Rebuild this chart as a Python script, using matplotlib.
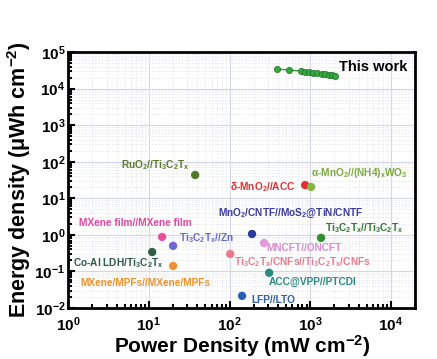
import numpy as np
import matplotlib
matplotlib.use('Agg')
import matplotlib.pyplot as plt

plt.rcParams['font.family'] = ['Liberation Sans', 'DejaVu Sans']
plt.rcParams['mathtext.fontset'] = 'custom'
plt.rcParams['mathtext.rm'] = 'Liberation Sans:bold'
plt.rcParams['mathtext.it'] = 'Liberation Sans:bold'
plt.rcParams['mathtext.bf'] = 'Liberation Sans:bold'

# this work (line with markers)
work_power = [389, 548, 771, 865, 969, 1087, 1218, 1404, 1530, 1715, 1867, 2036]
work_energy = [34300, 32200, 30200, 29000, 28300, 27500, 26700, 25800, 25000, 24200, 23500, 22000]

# literature points: label, power, energy
lit_labels = [
    r'RuO$_2$//Ti$_3$C$_2$T$_x$',
    r'δ-MnO$_2$//ACC',
    r'α-MnO$_2$//(NH4)$_x$WO$_3$',
    r'MnO$_2$/CNTF//MoS$_2$@TiN/CNTF',
    r'Ti$_3$C$_2$T$_x$//Ti$_3$C$_2$T$_x$',
    'MNCFT//ONCFT',
    r'Ti$_3$C$_2$T$_x$/CNFs//Ti$_3$C$_2$T$_x$/CNFs',
    'ACC@VPP//PTCDI',
    'LFP//LTO',
    'MXene film//MXene film',
    r'Ti$_3$C$_2$T$_x$//Zn',
    r'Co-Al LDH/Ti$_3$C$_2$T$_x$',
    'MXene/MPFs//MXene/MPFs',
]
lit_power = [37.5, 865, 1026, 190, 1365, 268, 102, 310, 143, 14.6, 20, 11, 20]
lit_energy = [43.5, 23, 20.5, 1.06, 0.83, 0.60, 0.30, 0.092, 0.0215, 0.88, 0.50, 0.34, 0.142]
lit_colors = ['#4f7a28', '#e03030', '#80b840', '#2b3a9a', '#2f8f2f', '#e39ad8',
              '#ec7a8c', '#2a8a80', '#2860b0', '#e8509a', '#6a6ad0', '#2e6048', '#f09030']
label_colors = ['#5b7a2e', '#e03030', '#7aab3c', '#3a3aa0', '#2e7a2e', '#d98cd0',
                '#e87a8a', '#2a8a80', '#2e5fa8', '#e0479e', '#6a6acc', '#2f5a4a', '#f0922a']
# label offsets in points and alignment
offsets = [(-29, 7, 'center'), (-6.5, -1.5, 'right'), (35, 10, 'center'), (28, 15, 'center'),
           (31, 7, 'center'), (2, -3.6, 'left'), (3, -6, 'left'), (0, -6.5, 'left'),
           (7, -3, 'left'), (-19, 10, 'center'), (4.3, 5.8, 'left'), (-24.5, -8, 'center'),
           (-20, -12, 'center')]

fig = plt.figure(figsize=(4.37, 3.59), dpi=100)
ax = fig.add_axes([0.156, 0.142, 0.794, 0.713])
ax.set_xscale('log')
ax.set_yscale('log')
ax.set_xlim(1, 2e4)
ax.set_ylim(1e-2, 1e5)

ax.grid(True, which='major', color='#d4d6ea', lw=0.8)
ax.grid(True, which='minor', color='#e6e6f0', lw=0.6, ls=(0, (2, 2)))
ax.set_axisbelow(True)

ax.plot(work_power, work_energy, '-', color='#2e9a36', lw=1, zorder=3)
ax.scatter(work_power, work_energy, s=20, color='#35a83d', edgecolors='#1d6a22',
           linewidths=0.5, zorder=4)
ax.annotate('This work', (work_power[-1], work_energy[-1]), xytext=(3, 6.5),
            textcoords='offset points', ha='left', va='center', fontsize=10.5,
            fontweight='bold', color='black')

for lbl, p, e, c, lc, (dx, dy, ha) in zip(lit_labels, lit_power, lit_energy,
                                         lit_colors, label_colors, offsets):
    ax.scatter([p], [e], s=36, color=c, edgecolors='none', zorder=4)
    ax.annotate(lbl, (p, e), xytext=(dx, dy), textcoords='offset points',
                ha=ha, va='center', fontsize=7.3, fontweight='bold', color=lc)

for s in ax.spines.values():
    s.set_linewidth(2)
ax.tick_params(which='both', direction='in', top=False, right=False, width=1.5)
ax.tick_params(which='major', length=5, labelsize=11)
ax.tick_params(axis='x', which='major', pad=5.5)
ax.tick_params(axis='y', which='major', pad=2)
ax.tick_params(which='minor', length=3)
for t in ax.get_xticklabels() + ax.get_yticklabels():
    t.set_fontweight('bold')

ax.set_xlabel(r'Power Density (mW cm$^{-2}$)', fontsize=15, fontweight='bold', labelpad=-1)
ax.set_ylabel(r'Energy density (μWh cm$^{-2}$)', fontsize=15.5, fontweight='bold', labelpad=1)

fig.savefig('out.png', dpi=100)
